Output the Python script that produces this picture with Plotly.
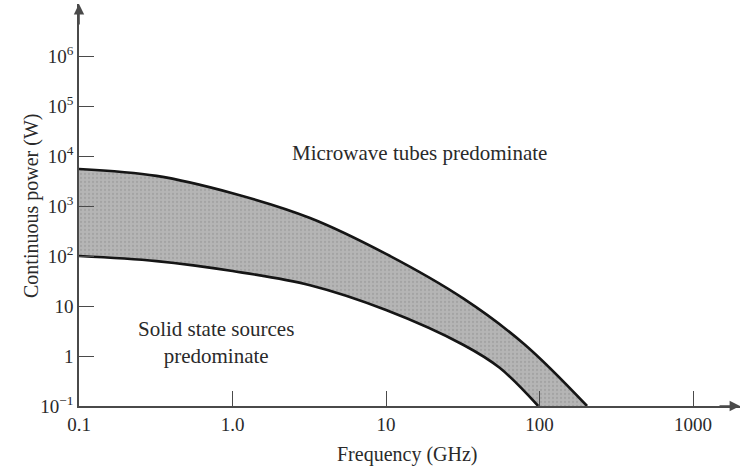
import plotly.graph_objects as go

# Data
freq_upper = [0.1, 0.32, 1.0, 3.2, 10, 32, 80, 204]
power_upper = [5500, 4000, 1800, 575, 110, 14, 1.7, 0.1]
freq_lower = [0.1, 0.32, 1.0, 3.2, 10, 32, 55, 98]
power_lower = [100, 79, 50, 26, 8.3, 1.66, 0.58, 0.1]

x_tickvals = [0.1, 1, 10, 100, 1000]
x_ticktext = ["0.1", "1.0", "10", "100", "1000"]
y_tickvals = [0.1, 1, 10, 100, 1e3, 1e4, 1e5, 1e6]
y_ticktext = ["10<sup>−1</sup>", "1", "10", "10<sup>2</sup>", "10<sup>3</sup>",
              "10<sup>4</sup>", "10<sup>5</sup>", "10<sup>6</sup>"]

FONT = "Liberation Serif, Times New Roman, serif"
AX = "#4a4a4a"
TXT = "#2a2a2a"

fig = go.Figure()
fig.add_trace(go.Scatter(x=freq_lower, y=power_lower, mode="lines",
                         line=dict(color="#151515", width=2.6, shape="spline"),
                         showlegend=False, hoverinfo="skip"))
fig.add_trace(go.Scatter(x=freq_upper, y=power_upper, mode="lines",
                         line=dict(color="#151515", width=2.6, shape="spline"),
                         fill="tonexty", fillcolor="#b5b5b5",
                         fillpattern=dict(shape=".", bgcolor="#b5b5b5", fgcolor="#929292",
                                          size=4, solidity=0.25),
                         showlegend=False, hoverinfo="skip"))

fig.update_layout(
    width=741, height=467,
    margin=dict(l=79, r=1, t=4, b=61, autoexpand=False),
    paper_bgcolor="white", plot_bgcolor="white",
    font=dict(family=FONT, size=20, color=TXT),
    xaxis=dict(type="log", range=[-1, 3.306], showgrid=False, zeroline=False,
               showline=True, linecolor=AX, linewidth=1.6, automargin=False,
               ticks="inside", ticklen=15, tickwidth=1.3, tickcolor=AX,
               tickvals=x_tickvals, ticktext=x_ticktext,
               tickfont=dict(family=FONT, size=19, color=TXT)),
    yaxis=dict(type="log", range=[-1, 7.04], showgrid=False, zeroline=False,
               showline=True, linecolor=AX, linewidth=1.6, automargin=False,
               ticks="inside", ticklen=15, tickwidth=1.3, tickcolor=AX,
               tickvals=y_tickvals, ticktext=y_ticktext,
               tickfont=dict(family=FONT, size=19, color=TXT)),
)

annotations = [
    # axis arrows
    dict(x=0, y=1, xref="paper", yref="paper", ax=0, ay=22,
         showarrow=True, arrowhead=2, arrowsize=1.3, arrowwidth=1.6, arrowcolor=AX, text="",
         standoff=0),
    dict(x=1, y=0, xref="paper", yref="paper", ax=-22, ay=0,
         showarrow=True, arrowhead=2, arrowsize=1.3, arrowwidth=1.6, arrowcolor=AX, text="",
         standoff=0),
    # region labels
    dict(x=1.215, y=4.06, xref="x", yref="y", text="Microwave tubes predominate",
         showarrow=False, font=dict(family=FONT, size=21, color=TXT)),
    dict(x=-0.1075, y=0.28, xref="x", yref="y", text="Solid state sources<br>predominate",
         showarrow=False, borderpad=0, font=dict(family=FONT, size=21, color=TXT)),
    # axis titles
    dict(x=1.143, y=0, xref="x", yref="paper", yshift=-48, yanchor="middle",
         text="Frequency (GHz)", showarrow=False,
         font=dict(family=FONT, size=20, color=TXT)),
    dict(x=0, y=3, xref="paper", yref="y", xshift=-48, xanchor="center", yanchor="middle",
         text="Continuous power (W)", textangle=-90, showarrow=False,
         font=dict(family=FONT, size=20, color=TXT)),
]
fig.update_layout(annotations=annotations)

fig.write_html("out.html", config={"displayModeBar": False},
               post_script="document.body.style.margin='0';document.body.style.padding='0';")
